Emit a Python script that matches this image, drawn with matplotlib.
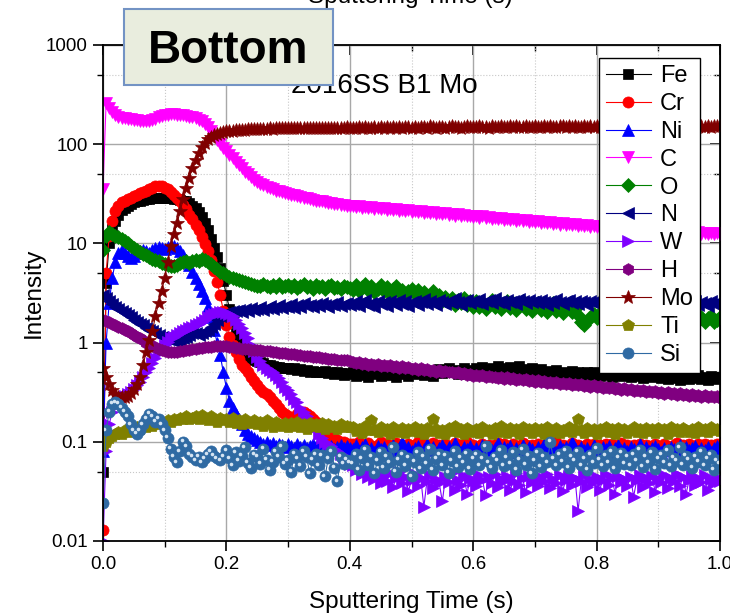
import numpy as np
import matplotlib
matplotlib.use('Agg')
import matplotlib.pyplot as plt
from matplotlib.patches import Rectangle
from matplotlib.ticker import NullFormatter
from matplotlib import transforms

plt.rcParams['font.family'] = ['Liberation Sans', 'DejaVu Sans']

# sampling grid, 0.005 s steps
time = np.arange(0, 1.0001, 0.005)

# values (0-0.4 s, then 0.405-1.0 s)
fe_early = [0.05, 4.0, 10.0, 14.0, 17.0, 19.5, 21.5, 23.0, 24.0, 25.0,
            26.0, 26.5, 27.0, 27.5, 28.0, 28.0, 28.5, 28.5, 29.0, 29.0,
            29.0, 28.5, 28.5, 28.0, 28.0, 27.5, 27.0, 26.5, 25.5, 24.0,
            22.5, 20.5, 18.5, 16.0, 13.5, 11.0, 9.0, 7.3, 5.6, 4.2,
            3.0, 2.2, 1.6, 1.25, 1.02, 0.88, 0.80, 0.74, 0.70, 0.67,
            0.65, 0.63, 0.62, 0.60, 0.59, 0.58, 0.57, 0.57, 0.56, 0.55,
            0.56, 0.54, 0.55, 0.53, 0.54, 0.52, 0.53, 0.51, 0.52, 0.50,
            0.51, 0.50, 0.52, 0.49, 0.50, 0.48, 0.50, 0.49, 0.47, 0.49,
            0.48]
fe_late = [0.50, 0.46, 0.49, 0.52, 0.47, 0.45, 0.50, 0.48, 0.51, 0.46,
           0.49, 0.53, 0.47, 0.50, 0.45, 0.48, 0.52, 0.49, 0.46, 0.50,
           0.53, 0.48, 0.51, 0.47, 0.52, 0.50, 0.46, 0.51, 0.54, 0.49,
           0.51, 0.55, 0.50, 0.53, 0.48, 0.52, 0.56, 0.51, 0.49, 0.53,
           0.55, 0.51, 0.57, 0.53, 0.50, 0.56, 0.54, 0.58, 0.52, 0.55,
           0.53, 0.57, 0.51, 0.55, 0.58, 0.52, 0.54, 0.50, 0.55, 0.52,
           0.50, 0.54, 0.49, 0.52, 0.47, 0.51, 0.53, 0.48, 0.50, 0.46,
           0.49, 0.52, 0.47, 0.50, 0.45, 0.49, 0.51, 0.47, 0.50, 0.48,
           0.46, 0.49, 0.47, 0.51, 0.45, 0.48, 0.50, 0.46, 0.49, 0.47,
           0.45, 0.48, 0.46, 0.50, 0.44, 0.47, 0.49, 0.45, 0.48, 0.46,
           0.44, 0.47, 0.43, 0.46, 0.48, 0.44, 0.42, 0.46, 0.45, 0.43,
           0.46, 0.44, 0.47, 0.43, 0.45, 0.42, 0.46, 0.44, 0.43, 0.45]

cr_early = [0.013, 5.0, 12.0, 17.0, 21.0, 24.0, 26.0, 27.0, 28.0, 29.0,
            30.0, 31.0, 32.0, 33.0, 34.0, 35.0, 36.5, 37.5, 38.0, 37.5,
            36.5, 35.0, 33.0, 31.0, 29.0, 27.0, 24.5, 22.0, 19.5, 17.5,
            15.5, 13.5, 11.5, 9.8, 8.4, 6.8, 5.3, 4.1, 3.0, 2.1,
            1.5, 1.15, 0.95, 0.80, 0.68, 0.60, 0.55, 0.50, 0.45, 0.41,
            0.37, 0.34, 0.32, 0.30, 0.28, 0.26, 0.24, 0.22, 0.20, 0.19,
            0.18, 0.17, 0.165, 0.19, 0.20, 0.20, 0.19, 0.18, 0.17, 0.16,
            0.15, 0.14, 0.13, 0.12, 0.115, 0.11, 0.105, 0.10, 0.10, 0.095,
            0.095]
cr_late = [0.095, 0.088, 0.1, 0.092, 0.086, 0.097, 0.09, 0.084, 0.093, 0.099,
           0.089, 0.094, 0.086, 0.091, 0.098, 0.087, 0.093, 0.089, 0.096, 0.085,
           0.092, 0.099, 0.088, 0.094, 0.086, 0.091, 0.097, 0.089, 0.093, 0.087,
           0.095, 0.09, 0.086, 0.098, 0.092, 0.088, 0.094, 0.1, 0.089, 0.093,
           0.087, 0.091, 0.096, 0.089, 0.093, 0.085, 0.092, 0.098, 0.088, 0.094,
           0.09, 0.086, 0.095, 0.091, 0.088, 0.097, 0.093, 0.087, 0.092, 0.089,
           0.096, 0.088, 0.093, 0.09, 0.085, 0.094, 0.099, 0.089, 0.092, 0.087,
           0.091, 0.097, 0.088, 0.093, 0.086, 0.09, 0.095, 0.089, 0.094, 0.088,
           0.092, 0.087, 0.096, 0.09, 0.094, 0.088, 0.091, 0.098, 0.089, 0.093,
           0.086, 0.092, 0.089, 0.095, 0.088, 0.093, 0.09, 0.087, 0.096, 0.091,
           0.088, 0.094, 0.09, 0.086, 0.093, 0.097, 0.089, 0.092, 0.087, 0.095,
           0.091, 0.088, 0.094, 0.09, 0.096, 0.087, 0.092, 0.089, 0.095, 0.09]

ni_early = [0.08, 1.0, 2.5, 4.5, 6.5, 8.0, 8.5, 8.0, 7.5, 7.2,
            7.5, 8.0, 8.3, 8.5, 8.3, 8.0, 8.5, 9.0, 9.2, 9.0,
            8.8, 9.2, 9.5, 9.4, 9.0, 8.4, 7.6, 6.8, 6.0, 5.2,
            4.5, 3.9, 3.3, 2.8, 2.3, 1.8, 1.35, 1.0, 0.75, 0.5,
            0.35, 0.26, 0.22, 0.19, 0.17, 0.15, 0.13, 0.12, 0.115, 0.11,
            0.105, 0.10, 0.095, 0.10, 0.092, 0.098, 0.09, 0.096, 0.093, 0.088,
            0.095, 0.09, 0.087, 0.094, 0.089, 0.092, 0.086, 0.091, 0.095, 0.088,
            0.09, 0.085, 0.092, 0.087, 0.091, 0.084, 0.089, 0.093, 0.086, 0.09,
            0.087]
ni_late = [0.085, 0.092, 0.08, 0.088, 0.095, 0.082, 0.087, 0.079, 0.09, 0.084,
           0.088, 0.078, 0.086, 0.093, 0.081, 0.087, 0.1, 0.083, 0.089, 0.08,
           0.086, 0.091, 0.079, 0.085, 0.094, 0.082, 0.088, 0.077, 0.087, 0.092,
           0.083, 0.089, 0.08, 0.097, 0.084, 0.078, 0.088, 0.085, 0.091, 0.081,
           0.087, 0.079, 0.093, 0.084, 0.089, 0.082, 0.086, 0.098, 0.08, 0.088,
           0.084, 0.09, 0.078, 0.087, 0.083, 0.092, 0.081, 0.088, 0.085, 0.079,
           0.089, 0.083, 0.094, 0.08, 0.087, 0.085, 0.078, 0.091, 0.084, 0.088,
           0.082, 0.099, 0.086, 0.08, 0.089, 0.083, 0.087, 0.079, 0.093, 0.085,
           0.081, 0.088, 0.084, 0.09, 0.078, 0.086, 0.092, 0.083, 0.087, 0.08,
           0.089, 0.085, 0.079, 0.094, 0.083, 0.088, 0.081, 0.086, 0.09, 0.084,
           0.078, 0.087, 0.083, 0.089, 0.085, 0.08, 0.092, 0.084, 0.088, 0.082,
           0.086, 0.09, 0.081, 0.087, 0.083, 0.089, 0.079, 0.086, 0.091, 0.084]

c_early = [35, 260, 230, 210, 195, 190, 185, 182, 180, 178,
           176, 174, 172, 170, 170, 172, 175, 180, 186, 192,
           196, 198, 200, 200, 199, 198, 196, 193, 190, 186,
           182, 176, 170, 160, 148, 135, 122, 110, 100, 92,
           85, 78, 72, 66, 61, 57, 53, 50, 47, 44,
           42, 40, 38.5, 37, 36, 35, 34, 33.5, 33, 32,
           31.5, 31, 30.5, 30, 29.5, 29, 28.5, 28, 27.5, 27,
           26.8, 26.5, 26, 25.8, 25.5, 25, 24.8, 24.5, 24.2, 24,
           23.8]
c_late = [23.9, 23.2, 23.6, 22.9, 23.4, 22.6, 23.1, 22.4, 22.9, 22.3,
          22.7, 21.9, 22.4, 21.6, 22.1, 21.3, 21.8, 21.0, 21.5, 20.8,
          21.3, 20.6, 21.1, 20.4, 20.8, 20.1, 20.6, 19.9, 20.3, 19.7,
          20.1, 19.4, 19.9, 19.1, 19.6, 18.9, 19.3, 18.7, 19.0, 18.4,
          18.9, 18.2, 18.7, 18.0, 18.4, 17.8, 18.2, 17.5, 17.9, 17.4,
          17.8, 17.1, 17.6, 16.9, 17.3, 16.7, 17.1, 16.5, 16.9, 16.4,
          16.8, 16.2, 16.6, 15.9, 16.3, 15.8, 16.1, 15.5, 15.9, 15.4,
          15.8, 15.2, 15.6, 15.0, 15.4, 14.9, 15.2, 14.7, 15.0, 14.6,
          14.9, 14.4, 14.8, 14.2, 14.6, 14.1, 14.4, 13.9, 14.3, 13.8,
          14.1, 13.7, 14.0, 13.5, 13.9, 13.4, 13.7, 13.3, 13.6, 13.2,
          13.6, 13.1, 13.5, 13.0, 13.3, 12.9, 13.2, 12.8, 13.1, 12.7,
          13.0, 12.6, 12.9, 12.5, 12.8, 12.4, 12.8, 12.4, 12.7, 12.5]

o_early = [8.5, 12.0, 13.0, 12.5, 12.0, 11.5, 11.0, 10.5, 10.0, 9.5,
           9.0, 8.6, 8.2, 7.9, 7.6, 7.3, 7.0, 6.8, 6.6, 6.4,
           6.2, 6.0, 5.9, 5.9, 6.1, 6.3, 6.5, 6.6, 6.4, 6.7,
           6.8, 6.6, 6.9, 6.8, 6.5, 6.2, 5.8, 5.5, 5.2, 5.0,
           4.8, 4.6, 4.5, 4.4, 4.3, 4.2, 4.1, 4.0, 3.9, 3.8,
           3.75, 3.7, 3.9, 3.7, 3.6, 3.8, 3.65, 3.9, 3.6, 3.75,
           3.85, 3.6, 3.8, 3.55, 3.75, 3.9, 3.6, 3.7, 3.5, 3.8,
           3.6, 3.75, 3.5, 3.7, 3.85, 3.55, 3.65, 3.5, 3.75, 3.6,
           3.55]
o_late = [3.4, 3.8, 3.3, 3.6, 3.9, 3.4, 3.7, 3.2, 3.5, 3.8,
          3.3, 3.6, 3.1, 3.5, 3.7, 3.2, 3.4, 3.0, 3.3, 3.5,
          3.1, 3.4, 2.9, 3.2, 2.7, 3.0, 3.3, 2.8, 3.0, 2.6,
          2.9, 2.6, 2.8, 2.4, 2.7, 2.5, 2.8, 2.4, 2.6, 2.3,
          2.6, 2.3, 2.55, 2.2, 2.45, 2.7, 2.3, 2.5, 2.2, 2.45,
          2.6, 2.25, 2.5, 2.15, 2.4, 2.6, 2.2, 2.45, 2.1, 2.35,
          2.5, 2.15, 2.4, 2.05, 2.3, 2.5, 2.1, 2.35, 2.0, 2.25,
          2.4, 2.05, 2.2, 1.9, 1.6, 1.5, 1.65, 1.8, 1.95, 1.75,
          2.0, 1.8, 2.1, 1.85, 2.05, 1.9, 2.15, 1.85, 2.0, 1.8,
          2.05, 1.85, 2.0, 1.8, 1.95, 2.1, 1.8, 1.95, 1.75, 1.9,
          1.95, 1.75, 1.9, 1.7, 1.85, 1.95, 1.7, 1.8, 1.65, 1.85,
          1.75, 1.9, 1.65, 1.8, 1.6, 1.75, 1.85, 1.6, 1.7, 1.8]

n_early = [3.0, 2.8, 2.6, 2.45, 2.3, 2.2, 2.1, 2.0, 1.9, 1.8,
           1.7, 1.6, 1.55, 1.5, 1.4, 1.35, 1.3, 1.25, 1.2, 1.15,
           1.1, 1.08, 1.05, 1.03, 1.02, 1.05, 1.1, 1.15, 1.2, 1.25,
           1.25, 1.2, 1.25, 1.3, 1.35, 1.45, 1.55, 1.7, 1.85, 1.95,
           2.0, 2.05, 2.1, 2.1, 2.15, 2.05, 2.2, 2.1, 2.25, 2.15,
           2.2, 2.3, 2.15, 2.25, 2.35, 2.2, 2.3, 2.4, 2.25, 2.35,
           2.3, 2.45, 2.25, 2.4, 2.3, 2.5, 2.35, 2.4, 2.3, 2.45,
           2.35, 2.5, 2.4, 2.3, 2.45, 2.4, 2.55, 2.35, 2.45, 2.5,
           2.4]
n_late = [2.45, 2.6, 2.35, 2.55, 2.7, 2.4, 2.5, 2.3, 2.6, 2.45,
          2.55, 2.35, 2.65, 2.5, 2.4, 2.7, 2.45, 2.6, 2.35, 2.55,
          2.65, 2.4, 2.55, 2.75, 2.45, 2.6, 2.5, 2.4, 2.7, 2.55,
          2.45, 2.65, 2.5, 2.8, 2.55, 2.4, 2.6, 2.7, 2.5, 2.65,
          2.55, 2.75, 2.45, 2.6, 2.7, 2.5, 2.8, 2.55, 2.65, 2.45,
          2.7, 2.55, 2.6, 2.45, 2.75, 2.6, 2.5, 2.7, 2.55, 2.65,
          2.5, 2.7, 2.55, 2.4, 2.65, 2.5, 2.75, 2.55, 2.45, 2.6,
          2.7, 2.5, 2.6, 2.45, 2.65, 2.55, 2.4, 2.6, 2.5, 2.7,
          2.55, 2.4, 2.6, 2.5, 2.65, 2.45, 2.55, 2.35, 2.6, 2.5,
          2.4, 2.6, 2.45, 2.55, 2.35, 2.6, 2.5, 2.65, 2.45, 2.55,
          2.5, 2.35, 2.6, 2.45, 2.55, 2.4, 2.65, 2.5, 2.4, 2.55,
          2.45, 2.6, 2.4, 2.55, 2.5, 2.35, 2.6, 2.45, 2.55, 2.5]

w_early = [0.01, 0.08, 0.15, 0.2, 0.23, 0.25, 0.27, 0.29, 0.3, 0.32,
           0.34, 0.37, 0.4, 0.45, 0.5, 0.56, 0.62, 0.7, 0.78, 0.86,
           0.95, 1.02, 1.1, 1.15, 1.2, 1.25, 1.3, 1.35, 1.4, 1.45,
           1.5, 1.55, 1.6, 1.7, 1.8, 1.9, 1.95, 2.0, 2.05, 2.05,
           2.0, 1.95, 1.85, 1.7, 1.55, 1.4, 1.25, 1.1, 0.95, 0.82,
           0.72, 0.65, 0.6, 0.56, 0.53, 0.5, 0.47, 0.44, 0.4, 0.36,
           0.33, 0.3, 0.27, 0.25, 0.22, 0.2, 0.18, 0.16, 0.15, 0.14,
           0.12, 0.11, 0.1, 0.095, 0.09, 0.085, 0.08, 0.075, 0.07, 0.065,
           0.06]
w_late = [0.058, 0.052, 0.055, 0.047, 0.05, 0.044, 0.049, 0.042, 0.046, 0.038,
          0.045, 0.04, 0.048, 0.035, 0.043, 0.05, 0.038, 0.044, 0.032, 0.041,
          0.047, 0.036, 0.043, 0.022, 0.04, 0.046, 0.034, 0.042, 0.038, 0.025,
          0.044, 0.039, 0.048, 0.033, 0.041, 0.037, 0.045, 0.03, 0.043, 0.04,
          0.036, 0.046, 0.041, 0.029, 0.044, 0.038, 0.047, 0.035, 0.042, 0.04,
          0.045, 0.033, 0.04, 0.048, 0.037, 0.043, 0.031, 0.045, 0.039, 0.042,
          0.036, 0.044, 0.04, 0.047, 0.034, 0.042, 0.038, 0.046, 0.032, 0.041,
          0.045, 0.037, 0.043, 0.02, 0.04, 0.046, 0.035, 0.042, 0.039, 0.044,
          0.033, 0.041, 0.047, 0.037, 0.043, 0.03, 0.045, 0.039, 0.042, 0.036,
          0.044, 0.028, 0.041, 0.046, 0.035, 0.043, 0.038, 0.045, 0.031, 0.042,
          0.039, 0.046, 0.034, 0.043, 0.04, 0.047, 0.036, 0.044, 0.03, 0.041,
          0.045, 0.037, 0.043, 0.039, 0.046, 0.033, 0.042, 0.038, 0.044, 0.04]

h_early = [1.7, 1.65, 1.6, 1.55, 1.5, 1.45, 1.4, 1.35, 1.3, 1.25,
           1.2, 1.15, 1.1, 1.05, 1.0, 0.97, 0.93, 0.9, 0.87, 0.85,
           0.83, 0.81, 0.8, 0.8, 0.81, 0.82, 0.83, 0.84, 0.85, 0.86,
           0.87, 0.88, 0.89, 0.9, 0.9, 0.91, 0.92, 0.92, 0.93, 0.93,
           0.92, 0.91, 0.9, 0.89, 0.88, 0.87, 0.86, 0.86, 0.85, 0.85,
           0.84, 0.84, 0.83, 0.82, 0.82, 0.81, 0.8, 0.79, 0.79, 0.78,
           0.77, 0.77, 0.76, 0.75, 0.75, 0.74, 0.73, 0.73, 0.72, 0.71,
           0.71, 0.7, 0.7, 0.69, 0.68, 0.68, 0.67, 0.67, 0.66, 0.66,
           0.65]
h_late = [0.64, 0.62, 0.635, 0.615, 0.625, 0.6, 0.615, 0.595, 0.605, 0.585,
          0.6, 0.58, 0.59, 0.57, 0.58, 0.56, 0.575, 0.55, 0.565, 0.545,
          0.555, 0.535, 0.55, 0.53, 0.54, 0.52, 0.53, 0.51, 0.525, 0.505,
          0.515, 0.5, 0.51, 0.49, 0.5, 0.485, 0.495, 0.475, 0.485, 0.465,
          0.475, 0.46, 0.47, 0.45, 0.46, 0.445, 0.455, 0.44, 0.45, 0.43,
          0.445, 0.43, 0.44, 0.42, 0.43, 0.415, 0.425, 0.41, 0.42, 0.405,
          0.415, 0.4, 0.41, 0.395, 0.405, 0.39, 0.4, 0.385, 0.395, 0.38,
          0.39, 0.375, 0.385, 0.37, 0.38, 0.365, 0.375, 0.36, 0.37, 0.355,
          0.365, 0.35, 0.36, 0.345, 0.355, 0.34, 0.35, 0.335, 0.345, 0.33,
          0.34, 0.328, 0.336, 0.322, 0.332, 0.318, 0.328, 0.314, 0.324, 0.31,
          0.32, 0.306, 0.316, 0.302, 0.312, 0.298, 0.308, 0.295, 0.304, 0.292,
          0.3, 0.289, 0.297, 0.286, 0.294, 0.283, 0.291, 0.28, 0.288, 0.278]

mo_early = [0.55, 0.45, 0.38, 0.33, 0.3, 0.28, 0.28, 0.28, 0.29, 0.31,
            0.34, 0.38, 0.45, 0.6, 0.8, 1.05, 1.3, 1.85, 2.5, 3.3,
            4.5, 6.5, 9.5, 12.5, 16, 21, 28, 36, 46, 58,
            70, 82, 94, 104, 112, 118, 123, 127, 130, 133,
            135, 136, 137, 138, 139, 140, 140, 141, 141, 142,
            142, 143, 142, 143, 144, 143, 144, 144, 145, 144,
            145, 144, 145, 146, 145, 146, 145, 146, 146, 145,
            146, 147, 146, 147, 146, 147, 147, 146, 147, 148,
            147]
mo_late = [147, 145, 148, 146, 149, 147, 145, 148, 146, 149,
           147, 150, 146, 148, 147, 149, 146, 150, 148, 147,
           149, 146, 150, 148, 147, 151, 148, 146, 149, 150,
           147, 149, 151, 148, 150, 147, 149, 152, 148, 150,
           149, 151, 148, 150, 147, 151, 149, 148, 152, 150,
           148, 151, 149, 152, 150, 148, 151, 149, 150, 152,
           150, 148, 151, 149, 152, 150, 148, 151, 153, 149,
           151, 149, 152, 150, 148, 152, 150, 151, 149, 153,
           150, 152, 149, 151, 153, 150, 148, 152, 150, 151,
           152, 149, 151, 153, 150, 152, 149, 151, 153, 150,
           151, 153, 150, 152, 149, 151, 153, 150, 152, 151,
           153, 150, 152, 151, 149, 152, 150, 153, 151, 152]

ti_early = [0.09, 0.1, 0.11, 0.115, 0.12, 0.125, 0.12, 0.13, 0.125, 0.135,
            0.13, 0.14, 0.135, 0.145, 0.14, 0.15, 0.145, 0.155, 0.15, 0.16,
            0.155, 0.165, 0.16, 0.17, 0.165, 0.175, 0.17, 0.18, 0.17, 0.175,
            0.18, 0.17, 0.185, 0.175, 0.165, 0.18, 0.17, 0.16, 0.175, 0.165,
            0.17, 0.16, 0.175, 0.155, 0.165, 0.15, 0.17, 0.16, 0.155, 0.165,
            0.15, 0.16, 0.145, 0.165, 0.155, 0.14, 0.16, 0.15, 0.145, 0.155,
            0.14, 0.155, 0.145, 0.16, 0.14, 0.15, 0.135, 0.155, 0.145, 0.15,
            0.14, 0.155, 0.135, 0.15, 0.14, 0.145, 0.135, 0.15, 0.14, 0.145,
            0.14]
ti_late = [0.14, 0.128, 0.135, 0.122, 0.145, 0.13, 0.165, 0.132, 0.125, 0.14,
           0.128, 0.136, 0.12, 0.142, 0.13, 0.125, 0.138, 0.122, 0.135, 0.128,
           0.142, 0.125, 0.133, 0.12, 0.138, 0.127, 0.17, 0.135, 0.124, 0.132,
           0.12, 0.137, 0.128, 0.143, 0.126, 0.134, 0.121, 0.139, 0.13, 0.125,
           0.136, 0.122, 0.14, 0.128, 0.132, 0.12, 0.138, 0.126, 0.145, 0.13,
           0.124, 0.137, 0.127, 0.133, 0.121, 0.14, 0.129, 0.135, 0.122, 0.138,
           0.128, 0.134, 0.12, 0.142, 0.131, 0.125, 0.137, 0.123, 0.132, 0.127,
           0.14, 0.126, 0.135, 0.168, 0.131, 0.122, 0.138, 0.128, 0.134, 0.121,
           0.136, 0.127, 0.141, 0.125, 0.133, 0.12, 0.137, 0.129, 0.135, 0.124,
           0.13, 0.142, 0.126, 0.134, 0.122, 0.139, 0.128, 0.135, 0.123, 0.137,
           0.129, 0.134, 0.121, 0.14, 0.127, 0.133, 0.125, 0.138, 0.13, 0.126,
           0.136, 0.123, 0.14, 0.129, 0.134, 0.126, 0.142, 0.13, 0.135, 0.128]

si_early = [0.024, 0.13, 0.2, 0.24, 0.25, 0.24, 0.22, 0.2, 0.18, 0.15,
            0.13, 0.12, 0.13, 0.15, 0.17, 0.19, 0.18, 0.16, 0.17, 0.15,
            0.13, 0.11, 0.085, 0.07, 0.062, 0.08, 0.1, 0.09, 0.075, 0.07,
            0.065, 0.07, 0.062, 0.068, 0.075, 0.08, 0.072, 0.068, 0.065, 0.07,
            0.082, 0.068, 0.058, 0.078, 0.064, 0.072, 0.088, 0.061, 0.055, 0.074,
            0.07, 0.06, 0.085, 0.066, 0.052, 0.063, 0.079, 0.07, 0.09, 0.06,
            0.065, 0.05, 0.076, 0.068, 0.057, 0.08, 0.07, 0.048, 0.066, 0.075,
            0.058, 0.073, 0.045, 0.068, 0.08, 0.055, 0.04, 0.071, 0.06, 0.066,
            0.062]
si_late = [0.06, 0.075, 0.052, 0.068, 0.083, 0.058, 0.071, 0.048, 0.065, 0.079,
           0.055, 0.07, 0.062, 0.088, 0.05, 0.066, 0.074, 0.057, 0.069, 0.045,
           0.063, 0.078, 0.054, 0.07, 0.06, 0.085, 0.052, 0.067, 0.075, 0.058,
           0.072, 0.049, 0.064, 0.08, 0.056, 0.069, 0.061, 0.076, 0.053, 0.067,
           0.074, 0.058, 0.068, 0.09, 0.062, 0.055, 0.071, 0.065, 0.082, 0.057,
           0.069, 0.06, 0.078, 0.052, 0.066, 0.084, 0.059, 0.072, 0.048, 0.064,
           0.077, 0.056, 0.07, 0.062, 0.1, 0.067, 0.058, 0.075, 0.063, 0.081,
           0.055, 0.071, 0.064, 0.079, 0.058, 0.068, 0.052, 0.074, 0.061, 0.086,
           0.066, 0.057, 0.073, 0.062, 0.08, 0.054, 0.069, 0.077, 0.06, 0.071,
           0.058, 0.075, 0.065, 0.083, 0.056, 0.07, 0.062, 0.078, 0.053, 0.068,
           0.074, 0.061, 0.082, 0.057, 0.069, 0.064, 0.088, 0.059, 0.072, 0.066,
           0.055, 0.07, 0.063, 0.079, 0.058, 0.067, 0.074, 0.052, 0.065, 0.06]

names = ['Fe', 'Cr', 'Ni', 'C', 'O', 'N', 'W', 'H', 'Mo', 'Ti', 'Si']
values = [fe_early + fe_late, cr_early + cr_late, ni_early + ni_late,
          c_early + c_late, o_early + o_late, n_early + n_late,
          w_early + w_late, h_early + h_late, mo_early + mo_late,
          ti_early + ti_late, si_early + si_late]
markers = ['s', 'o', '^', 'v', 'D', '<', '>', 'h', '*', 'p', 'o']
colors = ['#000000', '#ff0000', '#0000ff', '#ff00ff', '#008000', '#000080',
          '#8000ff', '#800080', '#800000', '#808000', '#2f6aa3']
sizes = [7, 8, 8.5, 8.5, 7, 8.5, 8.5, 8.5, 10.5, 9, 8]

xticks = [0.0, 0.2, 0.4, 0.6, 0.8, 1.0]
xtick_labels = ['0.0', '0.2', '0.4', '0.6', '0.8', '1.0']
xminor = [0.1, 0.3, 0.5, 0.7, 0.9]
yticks = [0.01, 0.1, 1, 10, 100, 1000]
ytick_labels = ['0.01', '0.1', '1', '10', '100', '1000']
yminor = [0.05, 0.5, 5, 50, 500]

fig = plt.figure(figsize=(7.3, 6.13), dpi=100)
ax = fig.add_axes([0.1411, 0.1175, 0.8452, 0.8091])

for name, vals, mk, col, ms in zip(names, values, markers, colors, sizes):
    ax.plot(time, vals, '-', color=col, lw=0.8, marker=mk, ms=ms,
            mfc=col, mec=col, mew=0.5, label=name)

# little highlight on the Si balls
shine = transforms.offset_copy(ax.transData, fig=fig, x=-1.2, y=1.2, units='points')
ax.plot(time, values[-1], ls='none', marker='o', ms=2.6, mfc='#d5e4f2', mec='none',
        transform=shine)

ax.set_yscale('log')
ax.set_xlim(0, 1)
ax.set_ylim(0.01, 1000)
ax.set_xticks(xticks, labels=xtick_labels)
ax.set_xticks(xminor, minor=True)
ax.set_yticks(yticks, labels=ytick_labels)
ax.set_yticks(yminor, minor=True)
ax.yaxis.set_minor_formatter(NullFormatter())

ax.tick_params(which='major', direction='out', length=7, width=1.2, labelsize=13.5, pad=4)
ax.tick_params(which='minor', direction='out', length=4, width=1)
ax.grid(which='major', color='#a8a8a8', lw=1, ls='-')
ax.grid(which='minor', color='#c8c8c8', lw=0.8, ls=':')
ax.set_axisbelow(True)
for sp in ax.spines.values():
    sp.set_linewidth(1.3)

# top and right: ticks pointing inside, no labels
top = ax.secondary_xaxis('top')
top.set_xticks(xticks)
top.set_xticks(xminor, minor=True)
top.tick_params(which='major', direction='in', length=7, width=1.2, labeltop=False)
top.tick_params(which='minor', direction='in', length=4, width=1)
right = ax.secondary_yaxis('right')
right.set_yticks(yticks)
right.set_yticks(yminor, minor=True)
right.yaxis.set_minor_formatter(NullFormatter())
right.tick_params(which='major', direction='in', length=7, width=1.2, labelright=False)
right.tick_params(which='minor', direction='in', length=4, width=1)

ax.set_xlabel('Sputtering Time (s)', fontsize=17.5)
ax.xaxis.label.set_va('baseline')
ax.xaxis.set_label_coords(0.5, -0.135)
ax.set_ylabel('Intensity', fontsize=17.5)
ax.yaxis.set_label_coords(-0.094, 0.5)

leg = ax.legend(loc='upper right', bbox_to_anchor=(0.9676, 0.974), fontsize=17,
                fancybox=False, edgecolor='black', framealpha=1,
                handlelength=1.9, handletextpad=0.4, labelspacing=0.25,
                borderpad=0.3, borderaxespad=0)
leg.get_frame().set_linewidth(1.0)

# cut-off top axis title, sample name and the "Bottom" tag
fig.text(0.5616, 1 - 3.5 / 613, 'Sputtering Time (s)', fontsize=17.5,
         ha='center', va='baseline')
fig.text(478 / 730, 1 - 93 / 613, '2016SS B1 Mo', fontsize=20,
         ha='right', va='baseline', zorder=3)
fig.add_artist(Rectangle((124 / 730, 1 - 85 / 613), 209 / 730, 76 / 613,
                         transform=fig.transFigure, facecolor='#e9edde',
                         edgecolor='#7393c4', lw=1.5, zorder=5))
fig.text(228.5 / 730, 1 - 63 / 613, 'Bottom', fontsize=33, fontweight='bold',
         ha='center', va='baseline', zorder=6)

fig.savefig('out.png', dpi=100)
